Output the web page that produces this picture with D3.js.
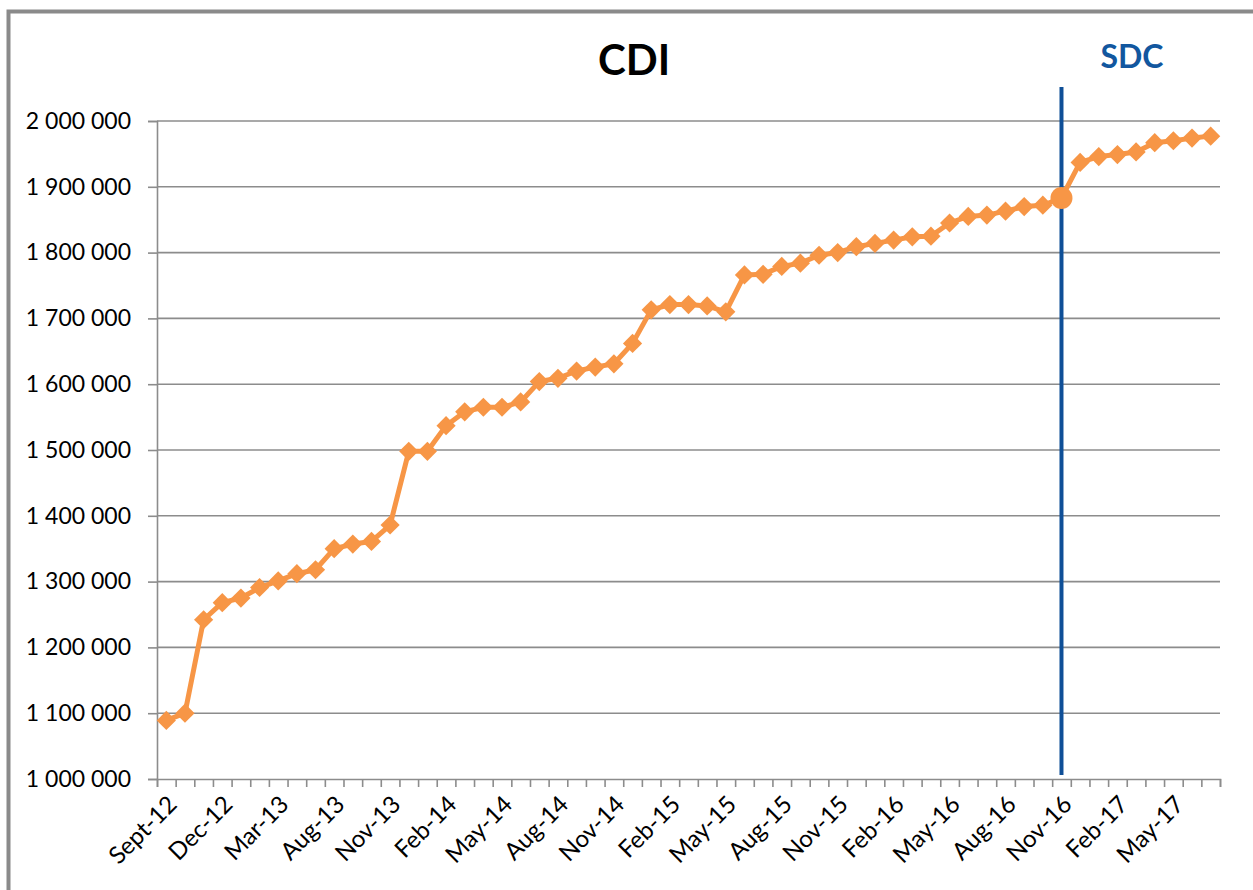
<!DOCTYPE html>
<html>
<head>
<meta charset="utf-8">
<title>CDI</title>
<script src="https://cdn.jsdelivr.net/npm/d3@7"></script>
<style>
  body { margin: 0; background: #fff; }
  text { font-family: Lato, "Open Sans", sans-serif; }
</style>
</head>
<body>
<script>
// monthly CDI totals, one per category (57 points)
var values = [
  1089000, 1100000, 1242000, 1268000, 1275000, 1291000, 1301000, 1312000, 1318000, 1350000,
  1357000, 1361000, 1386000, 1498000, 1498000, 1537000, 1558000, 1565000, 1565000, 1573000,
  1604000, 1609000, 1620000, 1626000, 1631000, 1662000, 1713000, 1721000, 1721000, 1719000,
  1710000, 1766000, 1767000, 1779000, 1784000, 1796000, 1800000, 1809000, 1814000, 1819000,
  1824000, 1825000, 1845000, 1855000, 1857000, 1863000, 1870000, 1872000, 1883000, 1937000,
  1946000, 1949000, 1953000, 1967000, 1970000, 1974000, 1977000
];
// only every third category is labelled on the axis
var tickLabels = ["Sept-12", "Dec-12", "Mar-13", "Aug-13", "Nov-13", "Feb-14", "May-14", "Aug-14",
  "Nov-14", "Feb-15", "May-15", "Aug-15", "Nov-15", "Feb-16", "May-16", "Aug-16", "Nov-16",
  "Feb-17", "May-17"];
var labelStep = 3;
var yTicks = [1000000, 1100000, 1200000, 1300000, 1400000, 1500000, 1600000, 1700000, 1800000, 1900000, 2000000];
var sdcIndex = 48;  // Nov-16, where SDC starts

var W = 1253, H = 890;
var mLeft = 157, mRight = 1220, mTop = 121, mBottom = 779;

var svg = d3.select("body").append("svg").attr("width", W).attr("height", H);

// chart frame (only left and top edges fall inside the picture)
svg.append("rect")
  .attr("x", 8.5).attr("y", 11.5).attr("width", 1400).attr("height", 1000)
  .attr("fill", "none").attr("stroke", "#8a8a8a").attr("stroke-width", 4);

var x = d3.scaleLinear().domain([0, values.length]).range([mLeft, mRight]);
var y = d3.scaleLinear().domain([1000000, 2000000]).range([mBottom, mTop]);

// gridlines
svg.append("g").selectAll("line").data(yTicks.slice(1)).enter().append("line")
  .attr("x1", mLeft).attr("x2", mRight)
  .attr("y1", function(d) { return y(d); }).attr("y2", function(d) { return y(d); })
  .attr("stroke", "#8c8c8c").attr("stroke-width", 1.6);

// y axis
var fmt = function(d) { return d3.format(",")(d).replace(/,/g, " "); };
var yAxis = svg.append("g").attr("transform", "translate(" + mLeft + ",0)")
  .call(d3.axisLeft(y).tickValues(yTicks).tickSize(9).tickPadding(17).tickFormat(fmt));
yAxis.select(".domain").attr("stroke", "#8c8c8c").attr("stroke-width", 1.6);
yAxis.selectAll(".tick line").attr("stroke", "#8c8c8c").attr("stroke-width", 1.6);
yAxis.selectAll(".tick text").attr("font-size", 23).attr("fill", "#000")
  .style("font-family", "Lato, sans-serif");

// x axis: a tick at every category boundary
var xAxis = svg.append("g").attr("transform", "translate(0," + mBottom + ")")
  .call(d3.axisBottom(x).tickValues(d3.range(values.length + 1)).tickSize(8).tickFormat(""));
xAxis.select(".domain").attr("stroke", "#8c8c8c").attr("stroke-width", 1.6);
xAxis.selectAll(".tick line").attr("stroke", "#8c8c8c").attr("stroke-width", 1.6);

svg.append("g").selectAll("text").data(tickLabels).enter().append("text")
  .attr("transform", function(d, i) {
    return "translate(" + (x(i * labelStep + 0.5) + 6) + "," + (mBottom + 21) + ") rotate(-45)";
  })
  .attr("text-anchor", "end").attr("dy", "0.35em")
  .attr("font-size", 24).attr("fill", "#000")
  .text(function(d) { return d; });

// SDC marker line
svg.append("line")
  .attr("x1", x(sdcIndex + 0.5)).attr("x2", x(sdcIndex + 0.5))
  .attr("y1", 87).attr("y2", 775)
  .attr("stroke", "#0f4f97").attr("stroke-width", 4);

// series
var orange = "#f79646";
var line = d3.line()
  .x(function(d, i) { return x(i + 0.5); })
  .y(function(d) { return y(d); });
svg.append("path").datum(values)
  .attr("d", line).attr("fill", "none")
  .attr("stroke", orange).attr("stroke-width", 5).attr("stroke-linejoin", "round");

var pts = values.map(function(v, i) { return { i: i, v: v }; });
var diamond = d3.symbol().type(d3.symbolDiamond2).size(235);
svg.append("g").selectAll("path")
  .data(pts.filter(function(p) { return p.i !== sdcIndex; }))
  .enter().append("path")
  .attr("transform", function(p) { return "translate(" + x(p.i + 0.5) + "," + y(p.v) + ")"; })
  .attr("d", diamond).attr("fill", orange);

svg.append("circle")
  .attr("cx", x(sdcIndex + 0.5)).attr("cy", y(values[sdcIndex]))
  .attr("r", 11).attr("fill", orange);

// titles
svg.append("text").attr("x", 634).attr("y", 75).attr("text-anchor", "middle")
  .attr("font-size", 42).attr("font-weight", "bold").attr("fill", "#000").text("CDI");
svg.append("text").attr("x", 1132).attr("y", 68).attr("text-anchor", "middle")
  .attr("font-size", 32).attr("font-weight", "bold").attr("fill", "#12579f").text("SDC");
</script>
</body>
</html>
